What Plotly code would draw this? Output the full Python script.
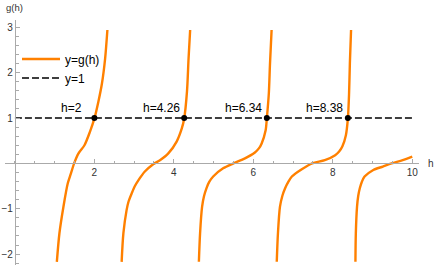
import plotly.graph_objects as go

# Branches of g(h)
b1_h = [1.055, 1.12, 1.22, 1.33, 1.41, 1.49, 1.60, 1.75, 1.89, 2.0, 2.10, 2.19, 2.27, 2.327]
b1_y = [-2.17, -1.54, -0.96, -0.44, -0.22, 0.0, 0.22, 0.40, 0.70, 0.99, 1.36, 1.76, 2.31, 2.94]
b2_h = [2.686, 2.73, 2.81, 2.86, 2.94, 3.02, 3.11, 3.27, 3.48, 3.65, 3.86, 4.07, 4.20, 4.26, 4.33, 4.37, 4.41]
b2_y = [-2.17, -1.54, -1.03, -0.84, -0.66, -0.50, -0.37, -0.18, -0.02, 0.07, 0.22, 0.48, 0.77, 0.99, 1.58, 2.31, 2.94]
b3_h = [4.63, 4.66, 4.71, 4.76, 4.82, 4.89, 4.99, 5.24, 5.50, 5.79, 6.04, 6.14, 6.21, 6.31, 6.34, 6.39, 6.42, 6.46]
b3_y = [-2.17, -1.54, -0.96, -0.72, -0.55, -0.41, -0.29, -0.11, 0.0, 0.11, 0.24, 0.33, 0.44, 0.73, 0.99, 1.54, 2.2, 2.94]
b4_h = [6.59, 6.62, 6.67, 6.73, 6.80, 6.88, 6.97, 7.22, 7.48, 7.80, 8.06, 8.16, 8.24, 8.33, 8.38, 8.41, 8.43, 8.46]
b4_y = [-2.17, -1.54, -0.96, -0.72, -0.55, -0.41, -0.29, -0.13, 0.0, 0.07, 0.18, 0.26, 0.37, 0.62, 0.99, 1.54, 2.2, 2.94]
b5_h = [8.57, 8.58, 8.61, 8.64, 8.68, 8.73, 8.80, 9.01, 9.26, 9.48, 9.76, 10.0]
b5_y = [-2.17, -1.54, -0.96, -0.72, -0.55, -0.41, -0.29, -0.15, -0.07, 0.0, 0.07, 0.15]

line1_h = [0, 10]
line1_y = [1, 1]

roots_h = [2, 4.26, 6.34, 8.38]
roots_text = ["h=2", "h=4.26", "h=6.34", "h=8.38"]

x_ticks = [2, 4, 6, 8, 10]
y_ticks = [-2, -1, 1, 2, 3]

ORANGE = "#FF8000"
XR = [-0.25, 10.17]
YR = [-2.24, 3.16]

fig = go.Figure()
branches = [(b1_h, b1_y), (b2_h, b2_y), (b3_h, b3_y), (b4_h, b4_y), (b5_h, b5_y)]
for i, (hx, gy) in enumerate(branches):
    fig.add_trace(go.Scatter(
        x=hx, y=gy, mode="lines",
        line=dict(color=ORANGE, width=2.4, shape="spline", smoothing=0.8),
        name="y=g(h)", legendgroup="g", showlegend=(i == 0),
        hoverinfo="skip"))

fig.add_trace(go.Scatter(
    x=line1_h, y=line1_y, mode="lines",
    line=dict(color="black", width=1.5, dash="7px,3px"),
    name="y=1", hoverinfo="skip"))

fig.add_trace(go.Scatter(
    x=roots_h, y=[1] * len(roots_h), mode="markers",
    marker=dict(color="black", size=6), showlegend=False, hoverinfo="skip"))

for hv, txt in zip(roots_h, roots_text):
    fig.add_annotation(x=hv - 0.58, y=1.22, text=txt, showarrow=False,
                       xanchor="center", yanchor="middle",
                       font=dict(size=12, color="black"))

xpos = (0 - YR[0]) / (YR[1] - YR[0])
ypos = (0 - XR[0]) / (XR[1] - XR[0])
axis_col = "#aaaaaa"
fig.update_xaxes(
    range=XR, anchor="free", position=xpos, showgrid=False, zeroline=False,
    automargin=False,
    showline=True, linecolor=axis_col, linewidth=1.2,
    tickmode="array", tickvals=x_ticks, ticks="inside", ticklen=4, tickcolor=axis_col,
    tickfont=dict(size=10, color="#333333"),
    minor=dict(dtick=0.5, tick0=0, ticks="inside", ticklen=2.5, tickcolor=axis_col))
fig.update_yaxes(
    range=YR, anchor="free", position=ypos, showgrid=False, zeroline=False,
    automargin=False,
    showline=True, linecolor=axis_col, linewidth=1.2,
    tickmode="array", tickvals=y_ticks, ticks="inside", ticklen=4, tickcolor=axis_col,
    tickfont=dict(size=10, color="#333333"),
    minor=dict(dtick=0.2, tick0=0, ticks="inside", ticklen=2.5, tickcolor=axis_col))

fig.add_annotation(xref="paper", yref="paper", x=ypos, y=1, xshift=0, yshift=13,
                   text="g(h)", showarrow=False, xanchor="center", yanchor="middle",
                   font=dict(size=9.5, color="#333333"))
fig.add_annotation(xref="paper", yref="paper", x=1, xshift=12, y=xpos,
                   text="h", showarrow=False, xanchor="center", yanchor="middle",
                   font=dict(size=10, color="#333333"))

fig.update_layout(
    width=436, height=277, margin=dict(l=5, r=17, t=20, b=12, autoexpand=False),
    plot_bgcolor="white", paper_bgcolor="white",
    font=dict(family="Liberation Sans, Arial, sans-serif"),
    legend=dict(x=0.029, y=0.90, xanchor="left", yanchor="top",
                bgcolor="rgba(0,0,0,0)", font=dict(size=12, color="black"),
                tracegroupgap=0, itemwidth=38),
)

fig.write_html("out.html", config={"displayModeBar": False},
               post_script="document.body.style.margin='0';")
